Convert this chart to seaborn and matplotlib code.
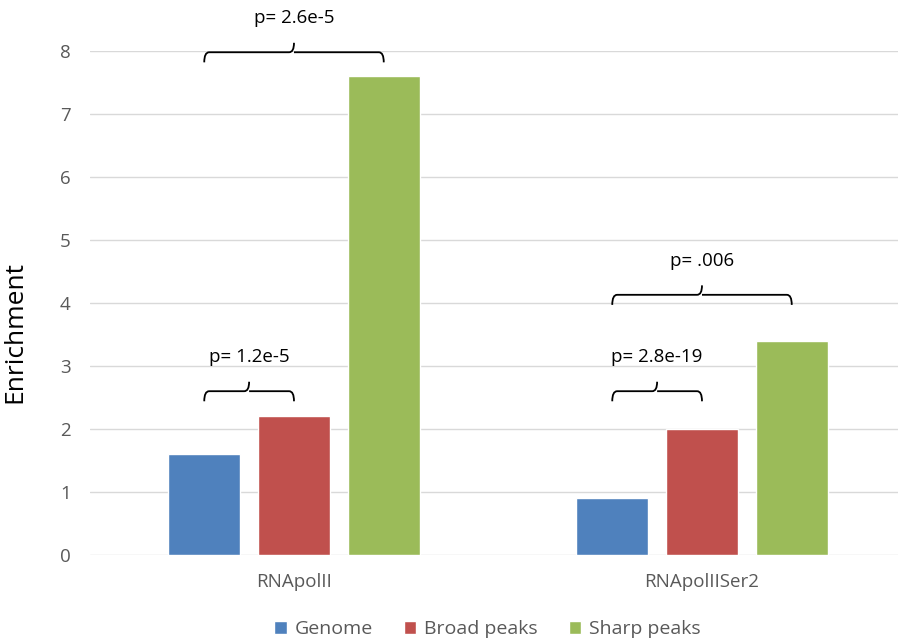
import numpy as np
import pandas as pd
import matplotlib
matplotlib.use("Agg")
import matplotlib.pyplot as plt
import seaborn as sns
from matplotlib.path import Path
from matplotlib.patches import PathPatch

# data
targets = ["RNApolII", "RNApolIISer2"]
series = ["Genome", "Broad peaks", "Sharp peaks"]
genome = [1.6, 0.9]
broad = [2.2, 2.0]
sharp = [7.6, 3.4]
colors = ["#4F81BD", "#C0504D", "#9BBB59"]

# significance brackets: (target, series a, series b, height, label)
brackets = [
    ("RNApolII", "Genome", "Sharp peaks", 7.98, "p= 2.6e-5"),
    ("RNApolII", "Genome", "Broad peaks", 2.6, "p= 1.2e-5"),
    ("RNApolIISer2", "Genome", "Sharp peaks", 4.13, "p= .006"),
    ("RNApolIISer2", "Genome", "Broad peaks", 2.6, "p= 2.8e-19"),
]

df = pd.DataFrame({
    "target": np.repeat(targets, 3),
    "series": series * 2,
    "value": [v for i in range(2) for v in (genome[i], broad[i], sharp[i])],
})

sns.set_theme(style="white")
plt.rcParams["font.family"] = ["Open Sans", "DejaVu Sans"]

fig = plt.figure(figsize=(8.98, 6.43), dpi=100)
ax = fig.add_axes([90 / 898, 88 / 643, 816 / 898, 504 / 643])

sns.barplot(data=df, x="target", y="value", hue="series", palette=colors,
            width=0.66, gap=0.2, saturation=1, ax=ax, legend=True)

ax.set_ylim(0, 8)
ax.set_xlim(-0.5, 1.5)
ax.set_yticks(range(0, 9))
ax.yaxis.grid(True, color="#D9D9D9", lw=1)
ax.set_axisbelow(True)
for s in ax.spines.values():
    s.set_visible(False)
ax.tick_params(axis="both", length=0, labelsize=13.5, labelcolor="#595959")
ax.tick_params(axis="y", pad=14)
ax.tick_params(axis="x", pad=13)
ax.set_xlabel("")
ax.set_ylabel("Enrichment", fontsize=19, color="black")
ax.yaxis.set_label_coords(-0.077, 0.442)

# bar centre lookup from the drawn patches
centers = {}
for cont, name in zip(ax.containers, series):
    for bar, t in zip(cont, targets):
        centers[(t, name)] = bar.get_x() + bar.get_width() / 2

def curly(ax, x0, x1, y, label):
    d = 0.16
    tip = 0.15
    r = 0.012
    xm = (x0 + x1) / 2
    verts = [(x0, y - d), (x0, y), (x0 + r, y),
             (xm - r, y), (xm, y), (xm, y + tip),
             (xm, y), (xm + r, y),
             (x1 - r, y), (x1, y), (x1, y - d)]
    codes = [Path.MOVETO, Path.CURVE3, Path.CURVE3,
             Path.LINETO, Path.CURVE3, Path.CURVE3,
             Path.MOVETO, Path.CURVE3,
             Path.LINETO, Path.CURVE3, Path.CURVE3]
    ax.add_patch(PathPatch(Path(verts, codes), fill=False, lw=1.3,
                           color="black", clip_on=False))
    ax.text(xm, y + 0.4, label, ha="center", va="bottom", fontsize=13.5,
            color="black", clip_on=False)

for t, a, b, h, lab in brackets:
    curly(ax, centers[(t, a)], centers[(t, b)], h, lab)

leg = ax.legend(loc="upper center", bbox_to_anchor=(0.487, -0.095), ncol=3,
                frameon=False, fontsize=14, handlelength=0.65, handleheight=0.65,
                handletextpad=0.4, columnspacing=1.6)
for txt in leg.get_texts():
    txt.set_color("#595959")

fig.savefig("out.png", dpi=100)
